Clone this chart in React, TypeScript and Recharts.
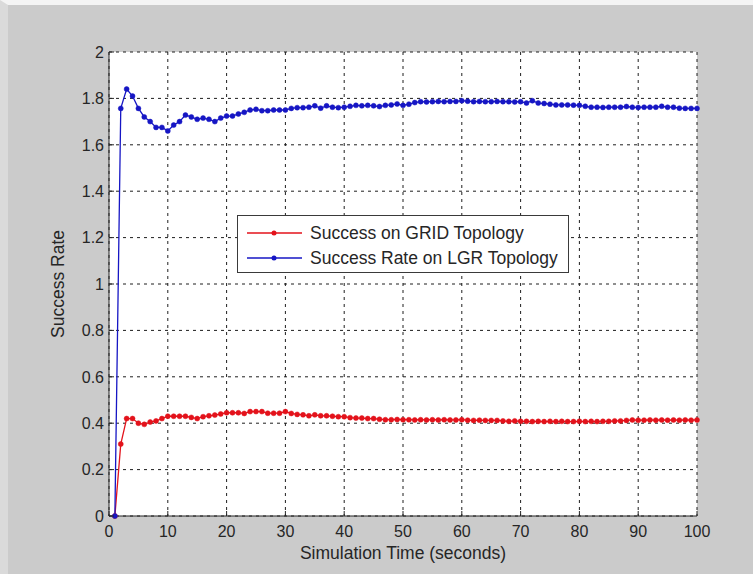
import { LineChart, Line, XAxis, YAxis, CartesianGrid, Legend } from "recharts";

// success rate per simulated second, t = 1..100
const gridRate = [
  0, 0.31, 0.42, 0.42, 0.4, 0.395, 0.405, 0.41, 0.42, 0.43,
  0.43, 0.43, 0.43, 0.425, 0.42, 0.428, 0.432, 0.435, 0.44, 0.445,
  0.445, 0.445, 0.442, 0.45, 0.45, 0.45, 0.443, 0.443, 0.443, 0.45,
  0.442, 0.438, 0.436, 0.432, 0.436, 0.432, 0.432, 0.43, 0.428, 0.428,
  0.424, 0.422, 0.422, 0.42, 0.42, 0.417, 0.415, 0.415, 0.416, 0.415,
  0.415, 0.414, 0.415, 0.414, 0.415, 0.414, 0.415, 0.414, 0.414, 0.415,
  0.413, 0.412, 0.413, 0.412, 0.412, 0.412, 0.41, 0.408, 0.41, 0.408,
  0.408, 0.407, 0.408, 0.407, 0.408, 0.407, 0.408, 0.407, 0.407, 0.408,
  0.407, 0.408, 0.407, 0.408, 0.408, 0.41, 0.41, 0.412, 0.414, 0.413,
  0.413, 0.414, 0.413, 0.414, 0.413, 0.414, 0.413, 0.414, 0.413, 0.414,
];

const lgrRate = [
  0, 1.757, 1.84, 1.81, 1.757, 1.72, 1.7, 1.675, 1.675, 1.66,
  1.685, 1.7, 1.728, 1.72, 1.71, 1.715, 1.71, 1.7, 1.715, 1.724,
  1.724, 1.733, 1.74, 1.75, 1.753, 1.747, 1.747, 1.75, 1.75, 1.75,
  1.757, 1.76, 1.76, 1.762, 1.768, 1.758, 1.768, 1.762, 1.76, 1.762,
  1.766, 1.77, 1.768, 1.77, 1.768, 1.765, 1.77, 1.772, 1.776, 1.77,
  1.775, 1.782, 1.786, 1.785, 1.786, 1.787, 1.786, 1.787, 1.787, 1.79,
  1.788, 1.786, 1.787, 1.786, 1.786, 1.787, 1.786, 1.786, 1.785, 1.786,
  1.78, 1.79, 1.78, 1.778, 1.775, 1.772, 1.772, 1.772, 1.771, 1.77,
  1.766, 1.762, 1.762, 1.761, 1.762, 1.762, 1.762, 1.765, 1.762, 1.761,
  1.762, 1.762, 1.762, 1.766, 1.762, 1.762, 1.758, 1.757, 1.757, 1.757,
];

const timeSteps = gridRate.map((_, i) => i + 1);

const xTicks = [0, 10, 20, 30, 40, 50, 60, 70, 80, 90, 100];
const yTicks = [0, 0.2, 0.4, 0.6, 0.8, 1, 1.2, 1.4, 1.6, 1.8, 2];

const data = timeSteps.map((t, i) => ({ t, grid: gridRate[i], lgr: lgrRate[i] }));

const FONT = '"Liberation Sans", Arial, sans-serif';
const INK = "#262626";
const RED = "#e3121b";
const BLUE = "#1616c4";

const series = [
  { key: "grid", name: "Success on GRID Topology", color: RED },
  { key: "lgr", name: "Success Rate on LGR Topology", color: BLUE },
];

// matlab style: ticks point into the box
function BottomTick(props: any) {
  const { x, y, payload } = props;
  return (
    <g>
      <line x1={x} y1={y} x2={x} y2={y - 5} stroke={INK} />
      <text x={x} y={y + 21} textAnchor="middle" fontSize={16} fill={INK} fontFamily={FONT}>
        {payload.value}
      </text>
    </g>
  );
}

function TopTick(props: any) {
  const { x, y } = props;
  return <line x1={x} y1={y} x2={x} y2={y + 5} stroke={INK} />;
}

function LeftTick(props: any) {
  const { x, y, payload } = props;
  return (
    <g>
      <line x1={x} y1={y} x2={x + 5} y2={y} stroke={INK} />
      <text x={x - 5} y={y} dy="0.36em" textAnchor="end" fontSize={16} fill={INK} fontFamily={FONT}>
        {payload.value}
      </text>
    </g>
  );
}

function RightTick(props: any) {
  const { x, y } = props;
  return <line x1={x} y1={y} x2={x - 5} y2={y} stroke={INK} />;
}

function LegendBox() {
  return (
    <div
      style={{
        width: 330,
        height: 56,
        border: "1px solid #3a3a3a",
        background: "#fff",
        fontFamily: FONT,
        fontSize: 17.5,
        color: INK,
      }}
    >
      {series.map((s, i) => (
        <div key={s.key} style={{ position: "absolute", left: 1, top: 6 + i * 25, height: 24, display: "flex", alignItems: "center" }}>
          <svg width={72} height={24}>
            <line x1={9} y1={12} x2={64} y2={12} stroke={s.color} strokeWidth={1.3} />
            <circle cx={36} cy={12} r={2.5} fill={s.color} />
          </svg>
          <span style={{ whiteSpace: "nowrap" }}>{s.name}</span>
        </div>
      ))}
    </div>
  );
}

export default function App() {
  return (
    <div
      style={{
        position: "absolute",
        left: 0,
        top: 0,
        width: 753,
        height: 574,
        boxSizing: "border-box",
        background: "#cbcbcb",
        borderTop: "5px solid #f4f4f4",
        borderLeft: "8px solid #dadada",
      }}
    >
      <div style={{ position: "absolute", left: -8, top: -5 }}>
        <LineChart width={753} height={574} data={data} margin={{ top: 52, right: 56, bottom: 0, left: 0 }}>
          <CartesianGrid stroke="#1e1e1e" strokeDasharray="3 4" fill="#fff" horizontalValues={yTicks} verticalValues={xTicks} />
          <XAxis
            dataKey="t"
            type="number"
            domain={[0, 100]}
            ticks={xTicks}
            height={58}
            tickSize={0}
            tickMargin={0}
            tick={<BottomTick />}
            axisLine={{ stroke: INK }}
            label={{
              content: (p: any) => (
                <text x={p.viewBox.x + p.viewBox.width / 2} y={p.viewBox.y + 43} textAnchor="middle" fontSize={17.5} fill={INK} fontFamily={FONT}>
                  Simulation Time (seconds)
                </text>
              ),
            }}
          />
          <XAxis
            xAxisId="top"
            orientation="top"
            dataKey="t"
            type="number"
            domain={[0, 100]}
            ticks={xTicks}
            height={0}
            tickSize={0}
            tickMargin={0}
            tick={<TopTick />}
            axisLine={{ stroke: INK }}
            label={{
              content: (p: any) => (
                <text x={p.viewBox.x + p.viewBox.width / 2} y={p.viewBox.y - 15} textAnchor="middle" fontSize={17.5} fill={INK} fontFamily={FONT}>
                  Network Success Rate
                </text>
              ),
            }}
          />
          <YAxis
            type="number"
            domain={[0, 2]}
            ticks={yTicks}
            width={109}
            tickSize={0}
            tickMargin={0}
            tick={<LeftTick />}
            axisLine={{ stroke: INK }}
            label={{
              content: (p: any) => {
                const cx = 58;
                const cy = p.viewBox.y + p.viewBox.height / 2;
                return (
                  <text x={cx} y={cy} transform={`rotate(-90 ${cx} ${cy})`} dy="0.36em" textAnchor="middle" fontSize={17.5} fill={INK} fontFamily={FONT}>
                    Success Rate
                  </text>
                );
              },
            }}
          />
          <YAxis
            yAxisId="right"
            orientation="right"
            type="number"
            domain={[0, 2]}
            ticks={yTicks}
            width={0}
            tickSize={0}
            tickMargin={0}
            tick={<RightTick />}
            axisLine={{ stroke: INK }}
          />
          {series.map((s) => (
            <Line
              key={s.key}
              type="linear"
              dataKey={s.key}
              name={s.name}
              stroke={s.color}
              strokeWidth={1.3}
              dot={{ r: 2.5, fill: s.color, stroke: s.color, strokeWidth: 0.5 }}
              isAnimationActive={false}
            />
          ))}
          <Legend
            layout="horizontal"
            verticalAlign="middle"
            align="center"
            content={<LegendBox />}
            wrapperStyle={{ position: "absolute", left: 237, top: 215, width: 332, height: 58 }}
          />
        </LineChart>
      </div>
    </div>
  );
}
